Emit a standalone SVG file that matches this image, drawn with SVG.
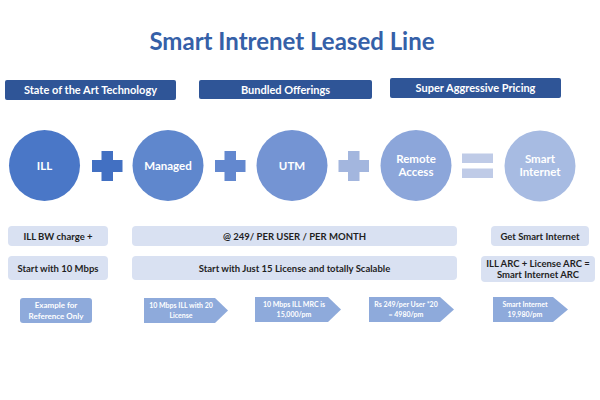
<svg xmlns="http://www.w3.org/2000/svg" width="600" height="400" viewBox="0 0 600 400">
<style>
text{font-family:Lato,"Open Sans","Liberation Sans",sans-serif;font-weight:bold;text-anchor:middle}
.title{font-size:24px;fill:#3560a8}
.hdr rect{fill:#2f5597}
.hdr text{font-size:11px;fill:#fff}
.circ text{font-size:11.5px;fill:#fff}
.lb rect{fill:#d9e1f2}
.lb text{font-size:9.5px;fill:#1f1f1f}
.ex{fill:#8eaadb}
.ex-t{font-size:7px;fill:#fff}
</style>
<rect width="600" height="400" fill="#fff"/>
<text class="title" x="292" y="50">Smart Intrenet Leased Line</text>

<g id="hdr1" class="hdr"><rect x="5" y="80" width="171" height="20" rx="2"/><text x="90.5" y="94">State of the Art Technology</text></g>
<g id="hdr2" class="hdr"><rect x="199" y="80" width="173" height="19" rx="2"/><text x="285.5" y="93.5">Bundled Offerings</text></g>
<g id="hdr3" class="hdr"><rect x="390" y="78" width="171" height="20" rx="2"/><text x="475.5" y="92">Super Aggressive Pricing</text></g>

<g id="ill" class="circ"><circle cx="44.5" cy="165.5" r="35.5" fill="#4a77c7"/><text x="44.5" y="169.5">ILL</text></g>
<g id="managed" class="circ"><circle cx="168" cy="165.5" r="35.5" fill="#5f87cd"/><text x="168" y="169.5">Managed</text></g>
<g id="utm" class="circ"><circle cx="292" cy="165.5" r="35.5" fill="#7494d3"/><text x="292" y="169.5">UTM</text></g>
<g id="remote" class="circ"><circle cx="416" cy="165.5" r="35.5" fill="#8ca6da"/><text x="416" y="163">Remote</text><text x="416" y="176">Access</text></g>
<g id="smart" class="circ"><circle cx="540" cy="166" r="35.5" fill="#a7bbe2"/><text x="540" y="163">Smart</text><text x="540" y="176">Internet</text></g>

<g id="operators">
<path d="M92 160h9.5v-9h11.5v9h9.5v12h-9.5v9h-11.5v-9h-9.5z" fill="#4270c2"/>
<path d="M215 160h9.5v-9h11.5v9h9.5v12h-9.5v9h-11.5v-9h-9.5z" fill="#6388cf"/>
<path d="M338.5 160h9.5v-9h11.5v9h9.5v12h-9.5v9h-11.5v-9h-9.5z" fill="#a3b6de"/>
<rect x="462" y="153.5" width="31" height="9.5" fill="#bfcbe7"/>
<rect x="462" y="168.5" width="31" height="9.5" fill="#bfcbe7"/>
</g>

<g id="row1a" class="lb"><rect x="8" y="226" width="100" height="20" rx="4"/><text x="58" y="239.5">ILL BW charge +</text></g>
<g id="row1b" class="lb"><rect x="132" y="226" width="325" height="20" rx="4"/><text x="294.5" y="239.5">@ 249/ PER USER / PER MONTH</text></g>
<g id="row1c" class="lb"><rect x="491" y="226" width="98" height="20" rx="4"/><text x="540" y="239.5">Get Smart Internet</text></g>

<g id="row2a" class="lb"><rect x="8" y="256" width="100" height="24" rx="4"/><text x="58" y="271.5">Start with 10 Mbps</text></g>
<g id="row2b" class="lb"><rect x="132" y="256" width="325" height="24" rx="4"/><text x="294.5" y="271.5">Start with Just 15 License and totally Scalable</text></g>
<g id="row2c" class="lb"><rect x="481" y="256" width="114" height="26" rx="4"/><text x="538" y="266.5">ILL ARC + License ARC =</text><text x="538" y="278">Smart Internet ARC</text></g>

<g id="example"><rect class="ex" x="20" y="298" width="72" height="25" rx="3"/><text class="ex-t" style="font-size:8px" x="56" y="308">Example for</text><text class="ex-t" style="font-size:8px" x="56" y="318.5">Reference Only</text></g>

<g id="step1"><path class="ex" d="M144 298h71l13 12.5l-13 12.5h-71z"/><text class="ex-t" x="181" y="308">10 Mbps ILL with 20</text><text class="ex-t" x="181" y="317.5">License</text></g>
<g id="step2"><path class="ex" d="M255 297h73l13 12.5l-13 12.5h-73z"/><text class="ex-t" x="294" y="307">10 Mbps ILL MRC is</text><text class="ex-t" x="294" y="316.5">15,000/pm</text></g>
<g id="step3"><path class="ex" d="M369 297h71l14 12.5l-14 12.5h-71z"/><text class="ex-t" x="406" y="307">Rs 249/per User *20</text><text class="ex-t" x="406" y="316.5">= 4980/pm</text></g>
<g id="step4"><path class="ex" d="M493 297h60l15 12.5l-15 12.5h-60z"/><text class="ex-t" x="525" y="307">Smart Internet</text><text class="ex-t" x="525" y="316.5">19,980/pm</text></g>
</svg>
